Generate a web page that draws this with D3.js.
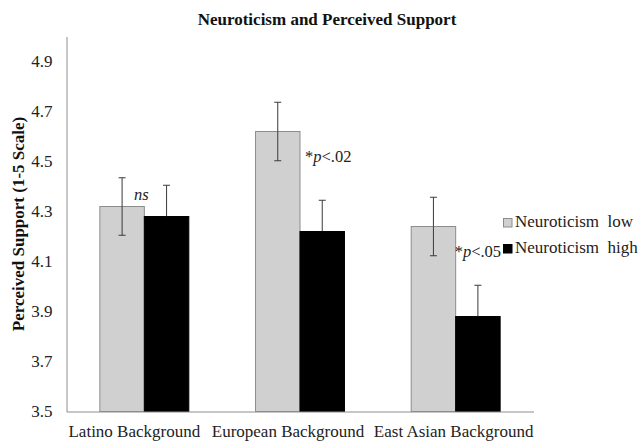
<!DOCTYPE html>
<html>
<head>
<meta charset="utf-8">
<script src="https://cdn.jsdelivr.net/npm/d3@7"></script>
<style>
  html, body { margin: 0; padding: 0; background: #fff; }
  svg { display: block; }
  svg text { font-family: "Liberation Serif", "Times New Roman", serif; }
</style>
</head>
<body>
<svg id="chart" width="641" height="442"></svg>
<script>
// data
const categories = ['Latino Background', 'European Background', 'East Asian Background'];
const seriesKeys = ['low', 'high'];
const seriesNames = ['Neuroticism  low', 'Neuroticism  high'];
const lowValues = [4.32, 4.62, 4.24];
const highValues = [4.28, 4.22, 3.88];
const lowErrors = [0.115, 0.117, 0.117];
const highErrors = [0.125, 0.125, 0.125];
const yTicks = [3.5, 3.7, 3.9, 4.1, 4.3, 4.5, 4.7, 4.9];
const annotations = ['ns', '*p<.02', '*p<.05'];

const W = 641, H = 442;
const FONT = '"Liberation Serif", "Times New Roman", serif';
const margin = { top: 36.5, right: 107.5, bottom: 30.5, left: 66.5 };
const fills = { low: '#d0d0d0', high: '#000000' };
const strokes = { low: '#8c8c8c', high: '#000000' };
const axisColor = '#8e8e8e';
// the category labels sit a little left of their bar groups in the original
const labelShift = [-10, -12, -2];

const svg = d3.select('#chart');

const rows = categories.map((c, i) => ({
  cat: c,
  low: lowValues[i], high: highValues[i],
  lowErr: lowErrors[i], highErr: highErrors[i],
}));

const x0 = d3.scaleBand().domain(categories).range([margin.left, W - margin.right]).padding(0);
const x1 = d3.scaleBand().domain(seriesKeys).range([0, x0.bandwidth()]).paddingInner(0).paddingOuter(0.75);
const y = d3.scaleLinear().domain([3.5, 5.0]).range([H - margin.bottom, margin.top]);

// y axis
const yAxis = svg.append('g')
  .attr('transform', `translate(${margin.left},0)`)
  .call(d3.axisLeft(y).tickValues(yTicks).tickSize(0).tickPadding(14).tickFormat(d3.format('.1f')));
yAxis.attr('font-family', FONT).attr('font-size', 17);
yAxis.select('.domain').attr('stroke', axisColor);
yAxis.selectAll('text').attr('fill', '#222');

// bars
const groups = svg.append('g').selectAll('g')
  .data(rows)
  .join('g')
  .attr('transform', d => `translate(${x0(d.cat)},0)`);

groups.selectAll('rect')
  .data(d => seriesKeys.map(k => ({ key: k, value: d[k] })))
  .join('rect')
  .attr('x', d => x1(d.key))
  .attr('y', d => y(d.value))
  .attr('width', x1.bandwidth())
  .attr('height', d => y(3.5) - y(d.value))
  .attr('fill', d => fills[d.key])
  .attr('stroke', d => strokes[d.key])
  .attr('stroke-width', 1);

// error bars (lower half on the black bars is hidden in the original)
const errs = groups.selectAll('g.err')
  .data(d => seriesKeys.map(k => ({ key: k, value: d[k], err: d[k + 'Err'] })))
  .join('g')
  .attr('class', 'err')
  .attr('stroke-width', 1);
const cx = d => x1(d.key) + x1.bandwidth() / 2;
const lowPart = d => (d.key === 'high' ? '#000' : '#3a3a3a');
errs.append('line')
  .attr('stroke', '#3a3a3a')
  .attr('x1', cx).attr('x2', cx)
  .attr('y1', d => y(d.value + d.err)).attr('y2', d => y(d.value));
errs.append('line')
  .attr('stroke', lowPart)
  .attr('x1', cx).attr('x2', cx)
  .attr('y1', d => y(d.value)).attr('y2', d => y(d.value - d.err));
errs.append('line')
  .attr('stroke', '#3a3a3a')
  .attr('x1', d => cx(d) - 3.5).attr('x2', d => cx(d) + 3.5)
  .attr('y1', d => y(d.value + d.err)).attr('y2', d => y(d.value + d.err));
errs.append('line')
  .attr('stroke', lowPart)
  .attr('x1', d => cx(d) - 3.5).attr('x2', d => cx(d) + 3.5)
  .attr('y1', d => y(d.value - d.err)).attr('y2', d => y(d.value - d.err));

// x axis (baseline)
const xAxis = svg.append('g')
  .attr('transform', `translate(0,${y(3.5)})`)
  .call(d3.axisBottom(x0).tickSize(0).tickPadding(13));
xAxis.attr('font-family', FONT).attr('font-size', 17);
xAxis.select('.domain').attr('stroke', axisColor);
xAxis.selectAll('text').attr('fill', '#222').attr('dx', (d, i) => labelShift[i]);

// significance annotations
const ann = svg.append('g').attr('font-family', FONT).attr('font-size', 16.5).attr('fill', '#222');
rows.forEach((d, i) => {
  const label = annotations[i];
  const gx = x0(d.cat);
  if (label === 'ns') {
    ann.append('text')
      .attr('x', gx + x1('high') - 3)
      .attr('y', y(d.high) - 17)
      .attr('text-anchor', 'middle')
      .attr('font-style', 'italic')
      .text(label);
  } else {
    const dx = i === 1 ? 5 : -1;
    const t = ann.append('text')
      .attr('x', gx + x1('high') + dx)
      .attr('y', y(d.low - d.lowErr) + 1.5);
    t.append('tspan').text('*');
    t.append('tspan').attr('font-style', 'italic').text('p');
    t.append('tspan').text(label.slice(2));
  }
});

// legend
const legend = svg.append('g').attr('transform', 'translate(503,218)');
seriesKeys.forEach((k, i) => {
  const row = legend.append('g').attr('transform', `translate(0,${i * 26})`);
  row.append('rect')
    .attr('x', 0.5).attr('y', 0.5).attr('width', 8.5).attr('height', 8.5)
    .attr('fill', fills[k]).attr('stroke', strokes[k]);
  row.append('text')
    .attr('x', 12).attr('y', 9)
    .attr('font-family', FONT)
    .attr('font-size', 17).attr('fill', '#222')
    .attr('xml:space', 'preserve')
    .style('white-space', 'pre')
    .text(seriesNames[i]);
});

// title
svg.append('text')
  .attr('x', 327).attr('y', 24.5)
  .attr('text-anchor', 'middle')
  .attr('font-family', FONT)
  .attr('font-size', 17).attr('font-weight', 'bold').attr('fill', '#111')
  .text('Neuroticism and Perceived Support');

// y axis title
svg.append('text')
  .attr('transform', 'translate(24,224) rotate(-90)')
  .attr('text-anchor', 'middle')
  .attr('font-family', FONT)
  .attr('font-size', 17).attr('font-weight', 'bold').attr('fill', '#111')
  .text('Perceived Support (1-5 Scale)');
</script>
</body>
</html>
